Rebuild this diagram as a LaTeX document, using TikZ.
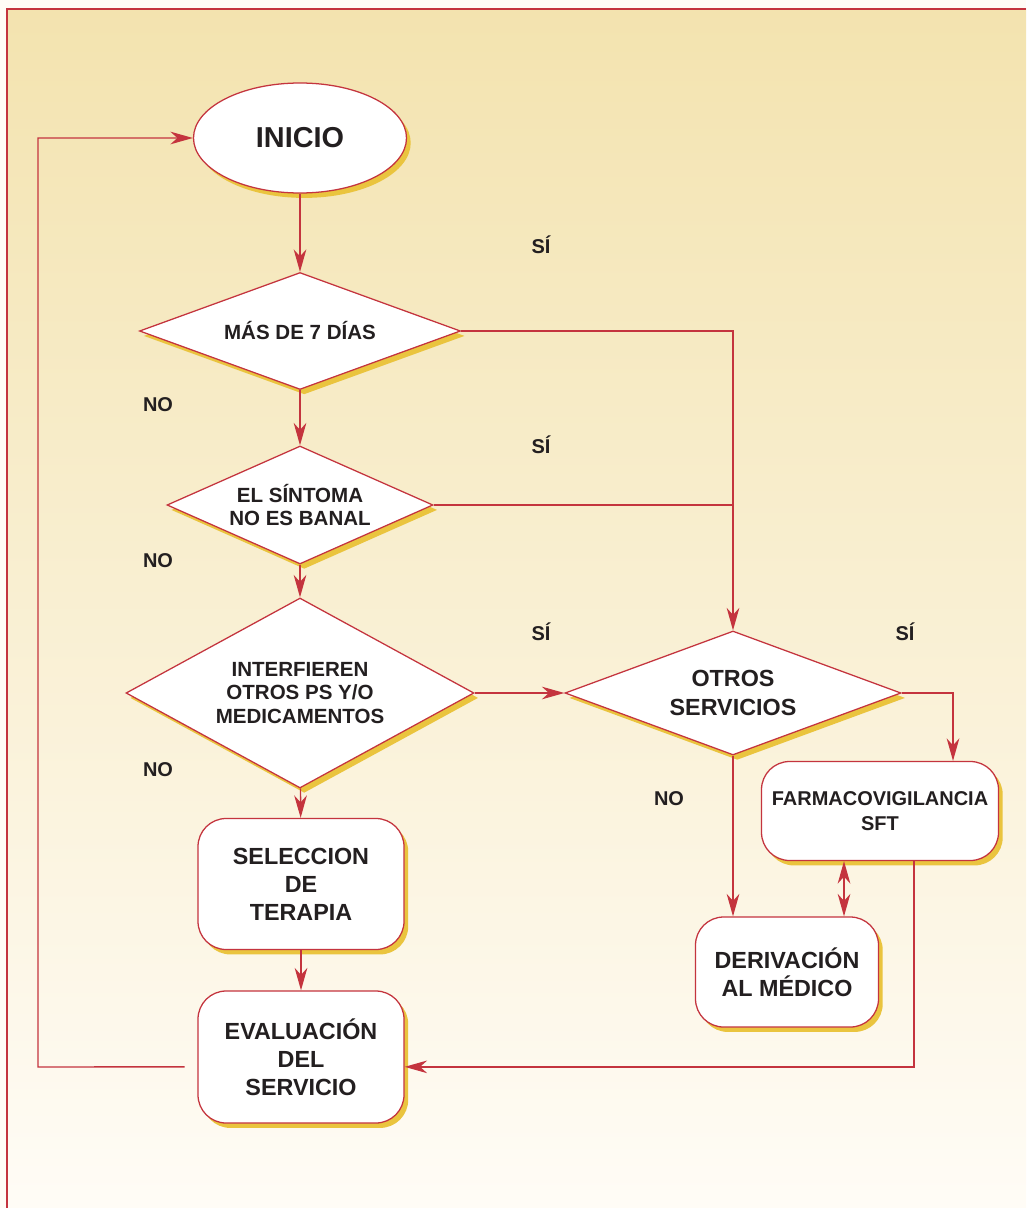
\documentclass[tikz,border=0pt]{standalone}
\usepackage{fontspec}
\setmainfont{Liberation Sans}
\usetikzlibrary{shapes.geometric,shadows,arrows.meta}

\definecolor{linered}{RGB}{196,52,62}
\definecolor{shadowyellow}{RGB}{234,196,62}
\definecolor{paper}{RGB}{243,227,175}
\definecolor{paperlight}{RGB}{255,252,246}
\definecolor{ink}{RGB}{35,31,32}

\newlength{\flowpx}
\setlength{\flowpx}{0.025cm}

\tikzset{
  base/.style={draw=linered, line width=0.9pt, fill=white, text=ink, align=center, inner sep=0pt,
    drop shadow={shadow xshift=3pt, shadow yshift=-3.5pt, fill=shadowyellow, opacity=1}},
  startnode/.style={base, ellipse, font=\fontsize{20.5}{24}\selectfont\bfseries},
  decision/.style={base, diamond, font=\fontsize{14.6}{16.4}\selectfont\bfseries},
  process/.style={base, rounded corners=20pt, font=\fontsize{16.6}{20}\selectfont\bfseries},
  answer/.style={text=ink, font=\fontsize{14.2}{16}\selectfont\bfseries},
  tip/.tip={Stealth[length=16pt,width=9pt,inset=5pt]},
  link/.style={draw=linered, line width=1pt},
  flow/.style={link, -tip},
  flowboth/.style={link, tip-tip},
}

\begin{document}
\begin{tikzpicture}[x=0.025cm, y=-0.025cm]
\useasboundingbox (0,0) rectangle (1026,1208);

% background and frame
\fill[paperlight] (0,0) rectangle (1026,1208);
\shade[top color=paper, bottom color=paperlight] (7,9) rectangle (1026,1208);
\draw[link] (7,1208) -- (7,9) -- (1026,9);

% main column
\node[startnode, minimum width=213\flowpx, minimum height=110\flowpx] (inicio) at (300,138) {INICIO};
\node[decision, aspect=2.74, minimum width=321\flowpx, minimum height=117\flowpx] (dias) at (300,331) {MÁS DE 7 DÍAS};
\node[decision, aspect=2.25, minimum width=266\flowpx, minimum height=118\flowpx] (banal) at (300,505) {EL SÍNTOMA\\NO ES BANAL};
\node[decision, aspect=1.83, minimum width=348\flowpx, minimum height=190\flowpx] (interf) at (300,693) {INTERFIEREN\\OTROS PS Y/O\\MEDICAMENTOS};
\node[process, minimum width=206\flowpx, minimum height=131\flowpx] (selec) at (301,884) {SELECCION\\DE\\TERAPIA};
\node[process, minimum width=206\flowpx, minimum height=132\flowpx] (eval) at (301,1057) {EVALUACIÓN\\DEL\\SERVICIO};

% right column
\node[decision, aspect=2.71, minimum width=336\flowpx, minimum height=124\flowpx, font=\fontsize{16.6}{20}\selectfont\bfseries] (otros) at (733,693) {OTROS\\SERVICIOS};
\node[process, minimum width=237\flowpx, minimum height=99\flowpx, font=\fontsize{14.2}{17.8}\selectfont\bfseries] (farma) at (880,811) {FARMACOVIGILANCIA\\SFT};
\node[process, minimum width=183\flowpx, minimum height=110\flowpx] (deriv) at (787,972) {DERIVACIÓN\\AL MÉDICO};

% answers
\node[answer] (si1) at (541,245) {SÍ};
\node[answer] (si2) at (541,445) {SÍ};
\node[answer] (si3) at (541,632) {SÍ};
\node[answer] (si4) at (905,632) {SÍ};
\node[answer] (no1) at (158,405) {NO};
\node[answer] (no2) at (158,561) {NO};
\node[answer] (no3) at (158,770) {NO};
\node[answer] (no4) at (669,799) {NO};

% columns of the side lines
\coordinate (fcol) at (953,0);
\coordinate (dcol) at (844,0);
\coordinate (rcol) at (914,0);
\coordinate (back) at (38,1067);

% connectors
\draw[flow] (inicio) -- (dias);
\draw[flow] (dias) -- (banal);
\draw[flow] (banal) -- (interf);
\draw[flow] (interf) -- (selec);
\draw[flow] (selec) -- (eval);
\draw[flow] (dias.east) -| (otros.north);
\draw[link] (banal.east) -- (banal.east -| otros.north);
\draw[flow] (interf.east) -- (otros.west);
\draw[flow] (otros.east) -| (farma.north -| fcol);
\draw[flow] (otros.south) -- (otros.south |- deriv.north);
\draw[flowboth] (farma.south -| dcol) -- (deriv.north -| dcol);
\draw[flow] (farma.south -| rcol) |- ([yshift=-7pt]eval.east);

% back to start
\draw[flow] ([xshift=-9pt,yshift=-7pt]eval.west) -- (back) |- (inicio.west);
\end{tikzpicture}
\end{document}
